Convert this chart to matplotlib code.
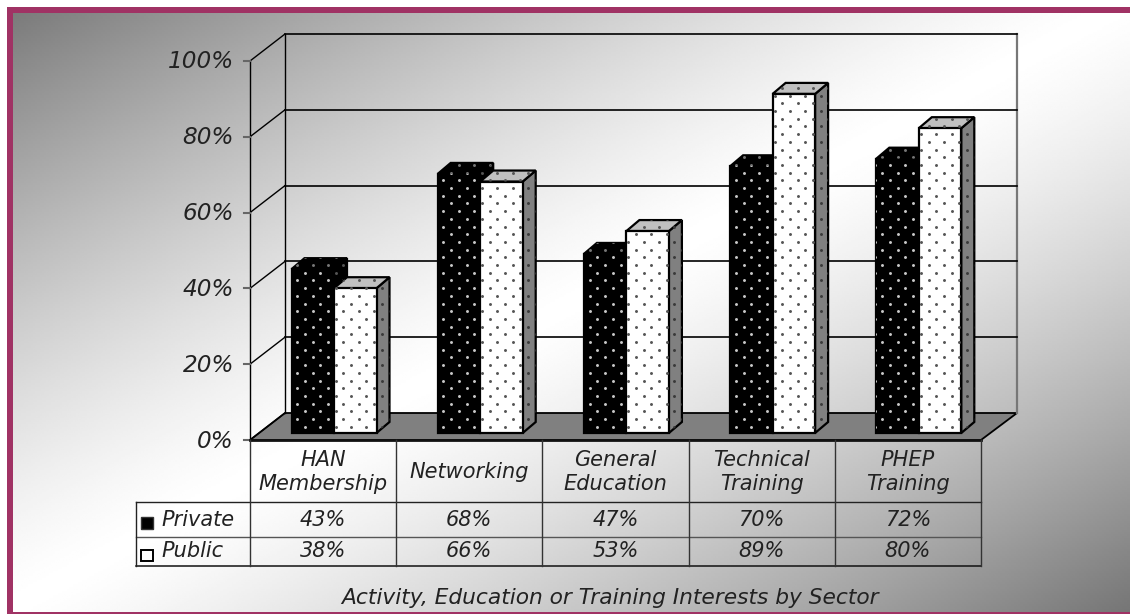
import numpy as np
import matplotlib
matplotlib.use('Agg')
import matplotlib.pyplot as plt
from matplotlib.patches import Polygon, Rectangle

categories = ['HAN\nMembership', 'Networking', 'General\nEducation', 'Technical\nTraining', 'PHEP\nTraining']
private = [43, 68, 47, 70, 72]
public = [38, 66, 53, 89, 80]
y_ticks = [0, 20, 40, 60, 80, 100]
title = 'Activity, Education or Training Interests by Sector'

W, H = 1130, 614
plt.rcParams['font.family'] = ['DejaVu Sans']
fig = plt.figure(figsize=(W / 100, H / 100), dpi=100)
ax = fig.add_axes([0, 0, 1, 1])
ax.set_xlim(0, W)
ax.set_ylim(H, 0)
ax.axis('off')

# plot geometry, in pixels
x0, x1 = 250, 981
y0 = 440
px_per_pct = 3.79
dx, dy = 35, -27
bar_base = 433
bar_scale = 3.81
cat_w = (x1 - x0) / len(categories)
bar_w = 42.5
bar_dx, bar_dy = 13, -11
text_col = '#222222'


def val_y(v):
    return y0 - v * px_per_pct


# background gradient, grey corners with a soft white band on the other diagonal
xx, yy = np.meshgrid(np.linspace(0, 1, 500), np.linspace(0, 1, 280))
t = (xx + yy) / 2
grad = 1 - 0.54 * np.abs(2 * t - 1) ** 1.3
ax.imshow(grad, extent=[0, W, H, 0], cmap='gray', vmin=0, vmax=1, aspect='auto',
          interpolation='bilinear', zorder=0)

# border
ax.add_patch(Rectangle((0, 0), W, 7, fc='white', ec='none', zorder=1))
ax.add_patch(Rectangle((0, 0), 7, H, fc='white', ec='none', zorder=1))
ax.add_patch(Rectangle((7, 7), W - 7, 6, fc='#a03264', ec='none', zorder=1))
ax.add_patch(Rectangle((7, 7), 6, H - 7, fc='#a03264', ec='none', zorder=1))
ax.add_patch(Rectangle((7, H - 2.5), W - 7, 2.5, fc='#a03264', ec='none', zorder=1))

# floor
ax.add_patch(Polygon([(x0, y0), (x0 + dx, y0 + dy), (x1 + dx + 1, y0 + dy), (x1, y0)],
                     fc='#808080', ec='black', lw=1.3, zorder=2))
ax.plot([x0, x1], [y0, y0], color='#111111', lw=2, zorder=2.2)

# walls and gridlines
ax.plot([x0, x0], [val_y(0), val_y(100)], color='black', lw=1, zorder=2)
ax.plot([x0 + dx, x0 + dx], [val_y(0) + dy, val_y(100) + dy], color='black', lw=1, zorder=2)
ax.plot([x1 + dx + 1, x1 + dx + 1], [val_y(0) + dy, val_y(100) + dy], color='#777777', lw=1.6, zorder=2)
for v in y_ticks:
    y = val_y(v)
    ax.plot([x0, x0 + dx], [y, y + dy], color='black', lw=1, zorder=2)
    if v > 0:
        ax.plot([x0 + dx, x1 + dx + 1], [y + dy, y + dy], color='black', lw=1.2, zorder=2.1)
    ax.plot([x0 - 6, x0], [y, y], color='#666666', lw=1.5, zorder=2)
    ax.text(x0 - 16, y + 1, '%d%%' % v, ha='right', va='center', style='italic',
            fontsize=16.7, color=text_col, zorder=5)

# dot lattice for the bar fill
gx, gy = np.meshgrid(np.arange(0, W, 15.4), np.arange(0, H, 15.4))
dots_x = np.concatenate([gx.ravel() + 4.5, gx.ravel() + 12.2])
dots_y = np.concatenate([gy.ravel() + 3.2, gy.ravel() + 10.9])


def dotted(points, fc, dot_col, z, lw=1.6):
    poly = Polygon(points, fc=fc, ec='black', lw=lw, joinstyle='miter', zorder=z)
    ax.add_patch(poly)
    s = ax.scatter(dots_x, dots_y, s=4.5, color=dot_col, linewidths=0, zorder=z + 0.1)
    s.set_clip_path(poly)


def bar3d(x, v, front, side, top, front_dot, side_dot, top_dot, z):
    y = bar_base - v * bar_scale
    r = x + bar_w
    dotted([(r, y), (r + bar_dx, y + bar_dy), (r + bar_dx, bar_base + bar_dy), (r, bar_base)], side, side_dot, z)
    dotted([(x, y), (x + bar_dx, y + bar_dy), (r + bar_dx, y + bar_dy), (r, y)], top, top_dot, z)
    dotted([(x, y), (r, y), (r, bar_base), (x, bar_base)], front, front_dot, z)


for i in range(len(categories)):
    bx = x0 + i * cat_w + 41.5
    bar3d(bx, private[i], 'black', 'black', 'black', '#c8c8c8', '#555555', '#777777', 3 + i)
    bar3d(bx + bar_w, public[i], 'white', '#808080', '#c0c0c0', '#555555', '#3a3a3a', '#555555', 3.5 + i)

# data table
y_head, y_priv, y_pub = 501.5, 536.5, 566
leg_x = 135.5
ax.plot([leg_x, x1], [y_head, y_head], color='#222222', lw=1, zorder=12)
ax.plot([leg_x, x1], [y_priv, y_priv], color='#555555', lw=1, zorder=12)
ax.plot([leg_x, x1], [y_pub, y_pub], color='#111111', lw=1.1, zorder=12)
ax.plot([leg_x, leg_x], [y_head, y_pub], color='#222222', lw=1, zorder=12)
for i in range(len(categories) + 1):
    xl = x0 + i * cat_w
    ax.plot([xl, xl], [y0, y_pub], color='#333333', lw=1, zorder=12)
for i in range(len(categories)):
    xc = x0 + (i + 0.5) * cat_w
    ax.text(xc, (y0 + y_head) / 2 + 1, categories[i], ha='center', va='center', style='italic',
            fontsize=15, color=text_col, linespacing=1.28, zorder=13)
    ax.text(xc, (y_head + y_priv) / 2 + 1, '%d%%' % private[i], ha='center', va='center', style='italic',
            fontsize=15, color=text_col, zorder=13)
    ax.text(xc, (y_priv + y_pub) / 2, '%d%%' % public[i], ha='center', va='center', style='italic',
            fontsize=15, color=text_col, zorder=13)

# legend keys inside the table
ax.add_patch(Rectangle((141, 517), 12, 12, fc='black', ec='#333333', lw=1, zorder=13))
ax.add_patch(Rectangle((141, 549.5), 12, 11, fc='white', ec='black', lw=1.4, zorder=13))
ax.text(161, (y_head + y_priv) / 2 + 1, 'Private', ha='left', va='center', style='italic',
        fontsize=15, color=text_col, zorder=13)
ax.text(161, (y_priv + y_pub) / 2, 'Public', ha='left', va='center', style='italic',
        fontsize=15, color=text_col, zorder=13)

ax.text(610, 598, title, ha='center', va='center', style='italic', fontsize=15.7, color=text_col, zorder=13)

fig.savefig('out.png', dpi=100)
